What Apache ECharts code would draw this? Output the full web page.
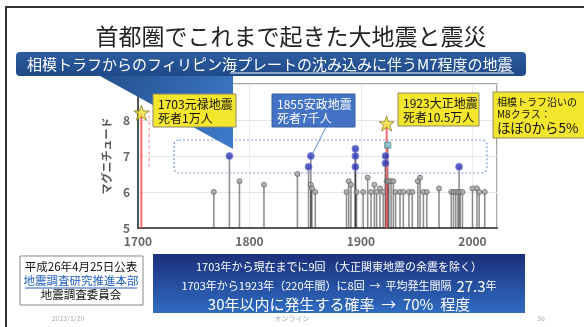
<!DOCTYPE html>
<html>
<head>
<meta charset="utf-8">
<script src="https://cdn.jsdelivr.net/npm/echarts@6/dist/echarts.min.js"></script>
<style>
  html, body { margin: 0; padding: 0; background: #fff; }
  #chart { width: 584px; height: 327px; }
</style>
</head>
<body>
<div id="chart"></div>
<script>
// years and magnitudes
const xTicks = [1700, 1800, 1900, 2000];
const yTicks = [5, 6, 7, 8];

// big events (stars, red stems)
const greatQuakes = [[1703, 8.2], [1923, 7.9]];
// dashed red range next to the 1703 event
const genrokuRange = [[1710, 6.7], [1710, 8.25]];
// M6.7+ events (blue dots)
const m7Quakes = [
  [1782, 7.0], [1853, 6.7], [1855, 7.0],
  [1895, 7.2], [1895, 7.0], [1895, 6.7],
  [1922, 7.0], [1922, 6.8], [1988, 6.7]
];
// aftershock of 1923 (square)
const aftershock = [[1924, 7.3]];
// M6 class events (grey lollipops)
const m6Quakes = [
  [1768, 6.0], [1791, 6.3], [1813, 6.2], [1843, 6.5],
  [1855, 6.2], [1856, 6.1], [1859, 6.0],
  [1887, 6.0], [1889, 6.3], [1891, 6.2], [1896, 6.0],
  [1902, 6.0], [1906, 6.4], [1909, 6.0], [1912, 6.2], [1914, 6.0],
  [1917, 6.1], [1920, 6.0], [1923, 6.3], [1924, 6.3], [1925, 6.3],
  [1927, 6.3], [1929, 6.3], [1931, 6.0], [1935, 6.0], [1938, 6.0],
  [1943, 6.0], [1946, 6.0], [1951, 6.3], [1953, 6.4], [1956, 6.0],
  [1959, 6.0], [1970, 6.1], [1981, 6.0], [1983, 6.0], [1985, 6.0],
  [1987, 6.0], [1989, 6.0], [1991, 6.0], [2000, 6.1], [2004, 6.1],
  [2006, 6.0], [2011, 6.0]
];

const FONT = '"Noto Sans CJK JP", "Noto Sans", sans-serif';
const STAR = 'path://M12,0 L15,9 L24,9 L17,14.5 L20,24 L12,18 L4,24 L7,14.5 L0,9 L9,9 Z';

function stemSeries(data, color, width, opacity) {
  return {
    type: 'custom',
    data: data,
    z: 3,
    silent: true,
    renderItem: function (params, api) {
      const top = api.coord([api.value(0), api.value(1)]);
      const base = api.coord([api.value(0), 5]);
      return {
        type: 'line',
        shape: { x1: top[0], y1: top[1], x2: base[0], y2: base[1] },
        style: { stroke: color, lineWidth: width, opacity: opacity }
      };
    }
  };
}

// every M6+ event gets a grey stem
const allStems = m6Quakes.concat(m7Quakes, aftershock);

const chart = echarts.init(document.getElementById('chart'));

function box(x, y, w, h, fill, stroke) {
  return { type: 'rect', z: 100, shape: { x: x, y: y, width: w, height: h },
    style: { fill: fill, stroke: stroke, lineWidth: 1 } };
}
function txt(x, y, text, size, color, align) {
  return { type: 'text', z: 101, x: x, y: y,
    style: { text: text, font: size + 'px ' + FONT, fill: color,
      textAlign: align || 'left', textVerticalAlign: 'middle' } };
}

chart.setOption({
  animation: false,
  backgroundColor: '#fff',
  grid: { left: 138, right: 87, top: 84, bottom: 99, show: true,
    borderColor: '#8a8a8a', borderWidth: 1.5, backgroundColor: '#fff' },
  xAxis: {
    type: 'value', min: 1700, max: 2022, interval: 100,
    axisLine: { show: true, onZero: false, lineStyle: { color: '#555', width: 2 } },
    axisTick: { show: false },
    axisLabel: { showMaxLabel: false, color: '#666', fontSize: 12, fontWeight: 'bold',
      fontFamily: FONT, margin: 7,
      formatter: v => xTicks.includes(v) ? String(v) : '' },
    splitLine: { show: true, lineStyle: { color: '#ececec' } }
  },
  yAxis: {
    type: 'value', min: 5, max: 9, interval: 1,
    name: 'マグニチュード', nameLocation: 'middle', nameGap: 22, nameRotate: 90,
    nameTextStyle: { color: '#555', fontSize: 11, fontWeight: 'bold', fontFamily: FONT },
    axisLine: { show: true, onZero: false, lineStyle: { color: '#555', width: 2 } },
    axisTick: { show: false },
    axisLabel: { showMaxLabel: false, color: '#666', fontSize: 12, fontWeight: 'bold',
      fontFamily: FONT, margin: 8,
      formatter: v => yTicks.includes(v) ? String(v) : '' },
    splitLine: { show: true, lineStyle: { color: '#e6e6e6' } }
  },
  series: [
    stemSeries(allStems, '#333', 1.6, 0.55),
    stemSeries(greatQuakes, '#ff5a5a', 2, 0.9),
    {
      type: 'custom', data: [genrokuRange], z: 3, silent: true,
      renderItem: function (params, api) {
        const a = api.coord(genrokuRange[0]);
        const b = api.coord(genrokuRange[1]);
        return { type: 'line', shape: { x1: a[0], y1: a[1], x2: b[0], y2: b[1] },
          style: { stroke: '#ff8080', lineWidth: 1, lineDash: [3, 3] } };
      }
    },
    {
      type: 'scatter', data: m6Quakes, z: 4, symbolSize: 5,
      itemStyle: { color: '#a8a8a8', borderColor: '#666', borderWidth: 1, opacity: 0.8 }
    },
    {
      type: 'scatter', data: m7Quakes, z: 5, symbolSize: 7,
      itemStyle: { color: '#3036b8', borderColor: '#7a86d8', borderWidth: 1 }
    },
    {
      type: 'scatter', data: aftershock, z: 5, symbol: 'rect', symbolSize: 6,
      itemStyle: { color: '#7fc4cf', borderColor: '#4a7f8a', borderWidth: 1 }
    },
    {
      type: 'scatter', data: greatQuakes, z: 6, symbol: STAR, symbolSize: 15,
      itemStyle: { color: '#f3e33a', borderColor: '#8a7a22', borderWidth: 1 }
    }
  ],
  graphic: [
    // slide frame
    { type: 'polyline', z: 100, shape: { points: [[6, 327], [6, 7], [584, 7]] },
      style: { stroke: '#333', lineWidth: 2, fill: null } },
    // title
    txt(291, 36, '首都圏でこれまで起きた大地震と震災', 23, '#222', 'center'),
    // subtitle banner
    { type: 'rect', z: 100, shape: { x: 16, y: 52, width: 510, height: 24, r: 4 },
      style: { fill: new echarts.graphic.LinearGradient(0, 0, 0, 1,
        [{ offset: 0, color: '#2d5c9e' }, { offset: 1, color: '#1f4a8a' }]) } },
    // callout triangle
    { type: 'polygon', z: 99, shape: { points: [[100, 76], [233, 76], [233, 149]] },
      style: { fill: new echarts.graphic.LinearGradient(0, 0, 1, 1,
        [{ offset: 0, color: '#24508f' }, { offset: 1, color: '#3f7ccc' }]) } },
    txt(27, 64, '相模トラフからのフィリピン海プレートの沈み込みに伴うM7程度の地震', 15, '#fff', 'left'),
    { type: 'line', z: 101, shape: { x1: 230, y1: 73, x2: 514, y2: 73 },
      style: { stroke: '#fff', lineWidth: 1 } },
    // dashed box round M7 class events
    { type: 'rect', z: 90, shape: { x: 174, y: 140, width: 313, height: 33, r: 5 },
      style: { fill: null, stroke: '#7f9bcc', lineWidth: 1.2, lineDash: [2, 2] } },
    // 1703
    box(153, 94, 83, 33, '#f3e62c', '#8a8a6a'),
    txt(158, 104, '1703元禄地震', 12, '#111'),
    txt(158, 118, '死者1万人', 12, '#111'),
    // 1855
    { type: 'line', z: 99, shape: { x1: 326, y1: 127, x2: 312, y2: 155 },
      style: { stroke: '#5b8ad0', lineWidth: 1 } },
    box(272, 94, 83, 33, '#4472c4', '#3a5f9f'),
    txt(277, 104, '1855安政地震', 12, '#fff'),
    txt(277, 118, '死者7千人', 12, '#fff'),
    // 1923
    box(398, 93, 81, 33, '#f3e62c', '#8a8a6a'),
    txt(403, 103, '1923大正地震', 12, '#111'),
    txt(403, 117, '死者10.5万人', 12, '#111'),
    // M8 class box
    box(493, 92, 92, 46, '#f3e62c', '#8a8a6a'),
    txt(497, 102, '相模トラフ沿いの', 10, '#111'),
    txt(497, 114, 'M8クラス：', 10, '#111'),
    txt(497, 128, 'ほぼ0から5%', 13.5, '#111'),
    // source box
    box(20, 256, 123, 49, '#fff', '#888'),
    txt(81, 267, '平成26年4月25日公表', 11.5, '#111', 'center'),
    txt(81, 281, '地震調査研究推進本部', 11.5, '#1f5fbf', 'center'),
    { type: 'line', z: 101, shape: { x1: 25, y1: 288, x2: 137, y2: 288 },
      style: { stroke: '#1f5fbf', lineWidth: 1 } },
    txt(81, 295, '地震調査委員会', 11.5, '#111', 'center'),
    // probability box
    { type: 'rect', z: 100, shape: { x: 153, y: 254, width: 372, height: 59 },
      style: { fill: new echarts.graphic.LinearGradient(0, 0, 0, 1,
        [{ offset: 0, color: '#1c2f7a' }, { offset: 1, color: '#2f6cc2' }]) } },
    txt(339, 267, '1703年から現在までに9回 （大正関東地震の余震を除く）', 11, '#fff', 'center'),
    { type: 'text', z: 101, x: 339, y: 286,
      style: { text: '{a|1703年から1923年（220年間）に8回  →  平均発生間隔  }{b|27.3}{a|年}',
        textAlign: 'center', textVerticalAlign: 'middle', fill: '#fff',
        rich: {
          a: { fontSize: 11, fontFamily: FONT, fill: '#fff', color: '#fff' },
          b: { fontSize: 15, fontFamily: FONT, fill: '#fff', color: '#fff' }
        } } },
    txt(339, 304, '30年以内に発生する確率  →  70%  程度', 15, '#fff', 'center'),
    // footer
    txt(68, 318, '2023/1/20', 7, '#aaa', 'center'),
    txt(292, 318, 'オンライン', 7, '#aaa', 'center'),
    txt(541, 318, '36', 7, '#aaa', 'center')
  ]
});
</script>
</body>
</html>
